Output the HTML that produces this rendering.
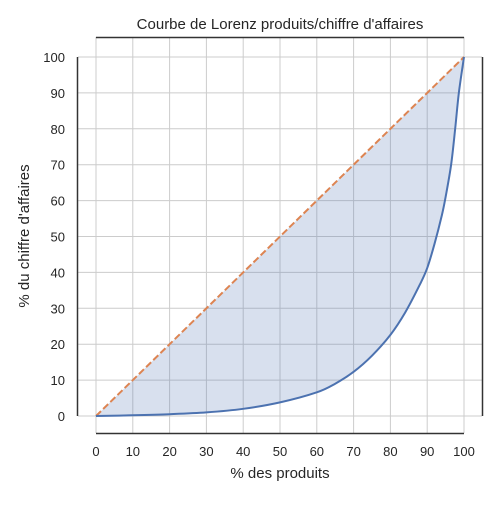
<!DOCTYPE html>
<html><head><meta charset="utf-8"><style>
body{margin:0;background:#fff}
text{font-family:"Liberation Sans",sans-serif;fill:#262626}
</style></head><body>
<svg id="chart" width="500" height="500" xmlns="http://www.w3.org/2000/svg">
<rect width="500" height="500" fill="#fff"/>
<text x="280" y="29" font-size="15" text-anchor="middle">Courbe de Lorenz produits/chiffre d'affaires</text>
<g id="grid"></g>
<g id="marks"></g>
<g id="ticks"></g>
<line x1="96" y1="37.5" x2="464" y2="37.5" stroke="#333" stroke-width="1.5"/>
<line x1="77.5" y1="57" x2="77.5" y2="416" stroke="#333" stroke-width="1.5"/>
<line x1="96" y1="433.5" x2="464" y2="433.5" stroke="#333" stroke-width="1.5"/>
<line x1="482.5" y1="57" x2="482.5" y2="416" stroke="#333" stroke-width="1.5"/>
<text x="280" y="478" font-size="15" text-anchor="middle">% des produits</text>
<text transform="translate(29,236) rotate(-90)" font-size="15" text-anchor="middle">% du chiffre d'affaires</text>
</svg>
<script>
const xTicks=[0,10,20,30,40,50,60,70,80,90,100];
const yTicks=[0,10,20,30,40,50,60,70,80,90,100];
const lorenzX=[0,10,20,30,40,50,60,65,70,75,80,84,88,90,92,94,95,96.5,97.6,98.6,100];
const lorenzY=[0,0.2,0.5,1,2,3.8,6.6,9,12.3,16.8,22.6,28.8,36.6,41.2,48,56,61,70,80,90,100];
const equalityX=[0,100];
const equalityY=[0,100];
const sx=v=>96+v*3.68, sy=v=>416-v*3.59;
const NS="http://www.w3.org/2000/svg";
function mk(tag,attrs,parent){const e=document.createElementNS(NS,tag);for(const k in attrs)e.setAttribute(k,attrs[k]);document.getElementById(parent).appendChild(e);return e;}
xTicks.forEach(t=>{
 const l=mk('line',{x1:sx(t),x2:sx(t),y1:37,y2:433,stroke:'#cccccc','stroke-width':1},'grid');
 
 
 const tx=mk('text',{x:sx(t),y:456,'font-size':13,'text-anchor':'middle'},'ticks');tx.textContent=t;
 
 
});
yTicks.forEach(t=>{
 const l=mk('line',{x1:78,x2:482,y1:sy(t),y2:sy(t),stroke:'#cccccc','stroke-width':1},'grid');
 
 
 const tx=mk('text',{x:65,y:sy(t)+5,'font-size':13,'text-anchor':'end'},'ticks');tx.textContent=t;
 
 
});
const P=lorenzX.map((x,i)=>[sx(x),sy(lorenzY[i])]);
let d='M'+P[0][0]+','+P[0][1];
for(let i=0;i<P.length-1;i++){
 const p0=P[Math.max(0,i-1)],p1=P[i],p2=P[i+1],p3=P[Math.min(P.length-1,i+2)];
 const c1=[p1[0]+(p2[0]-p0[0])/6,p1[1]+(p2[1]-p0[1])/6];
 const c2=[p2[0]-(p3[0]-p1[0])/6,p2[1]-(p3[1]-p1[1])/6];
 d+=' C'+c1[0]+','+c1[1]+' '+c2[0]+','+c2[1]+' '+p2[0]+','+p2[1];
}
const area=mk('path',{d:d+' Z',fill:'#4c72b0','fill-opacity':0.22},'marks');


const eq=mk('polyline',{points:equalityX.map((x,i)=>sx(x)+','+sy(equalityY[i])).join(' '),fill:'none',stroke:'#dd8452','stroke-width':2,'stroke-dasharray':'7,3'},'marks');


const lc=mk('path',{d:d,fill:'none',stroke:'#4c72b0','stroke-width':2},'marks');


</script>
</body></html>
